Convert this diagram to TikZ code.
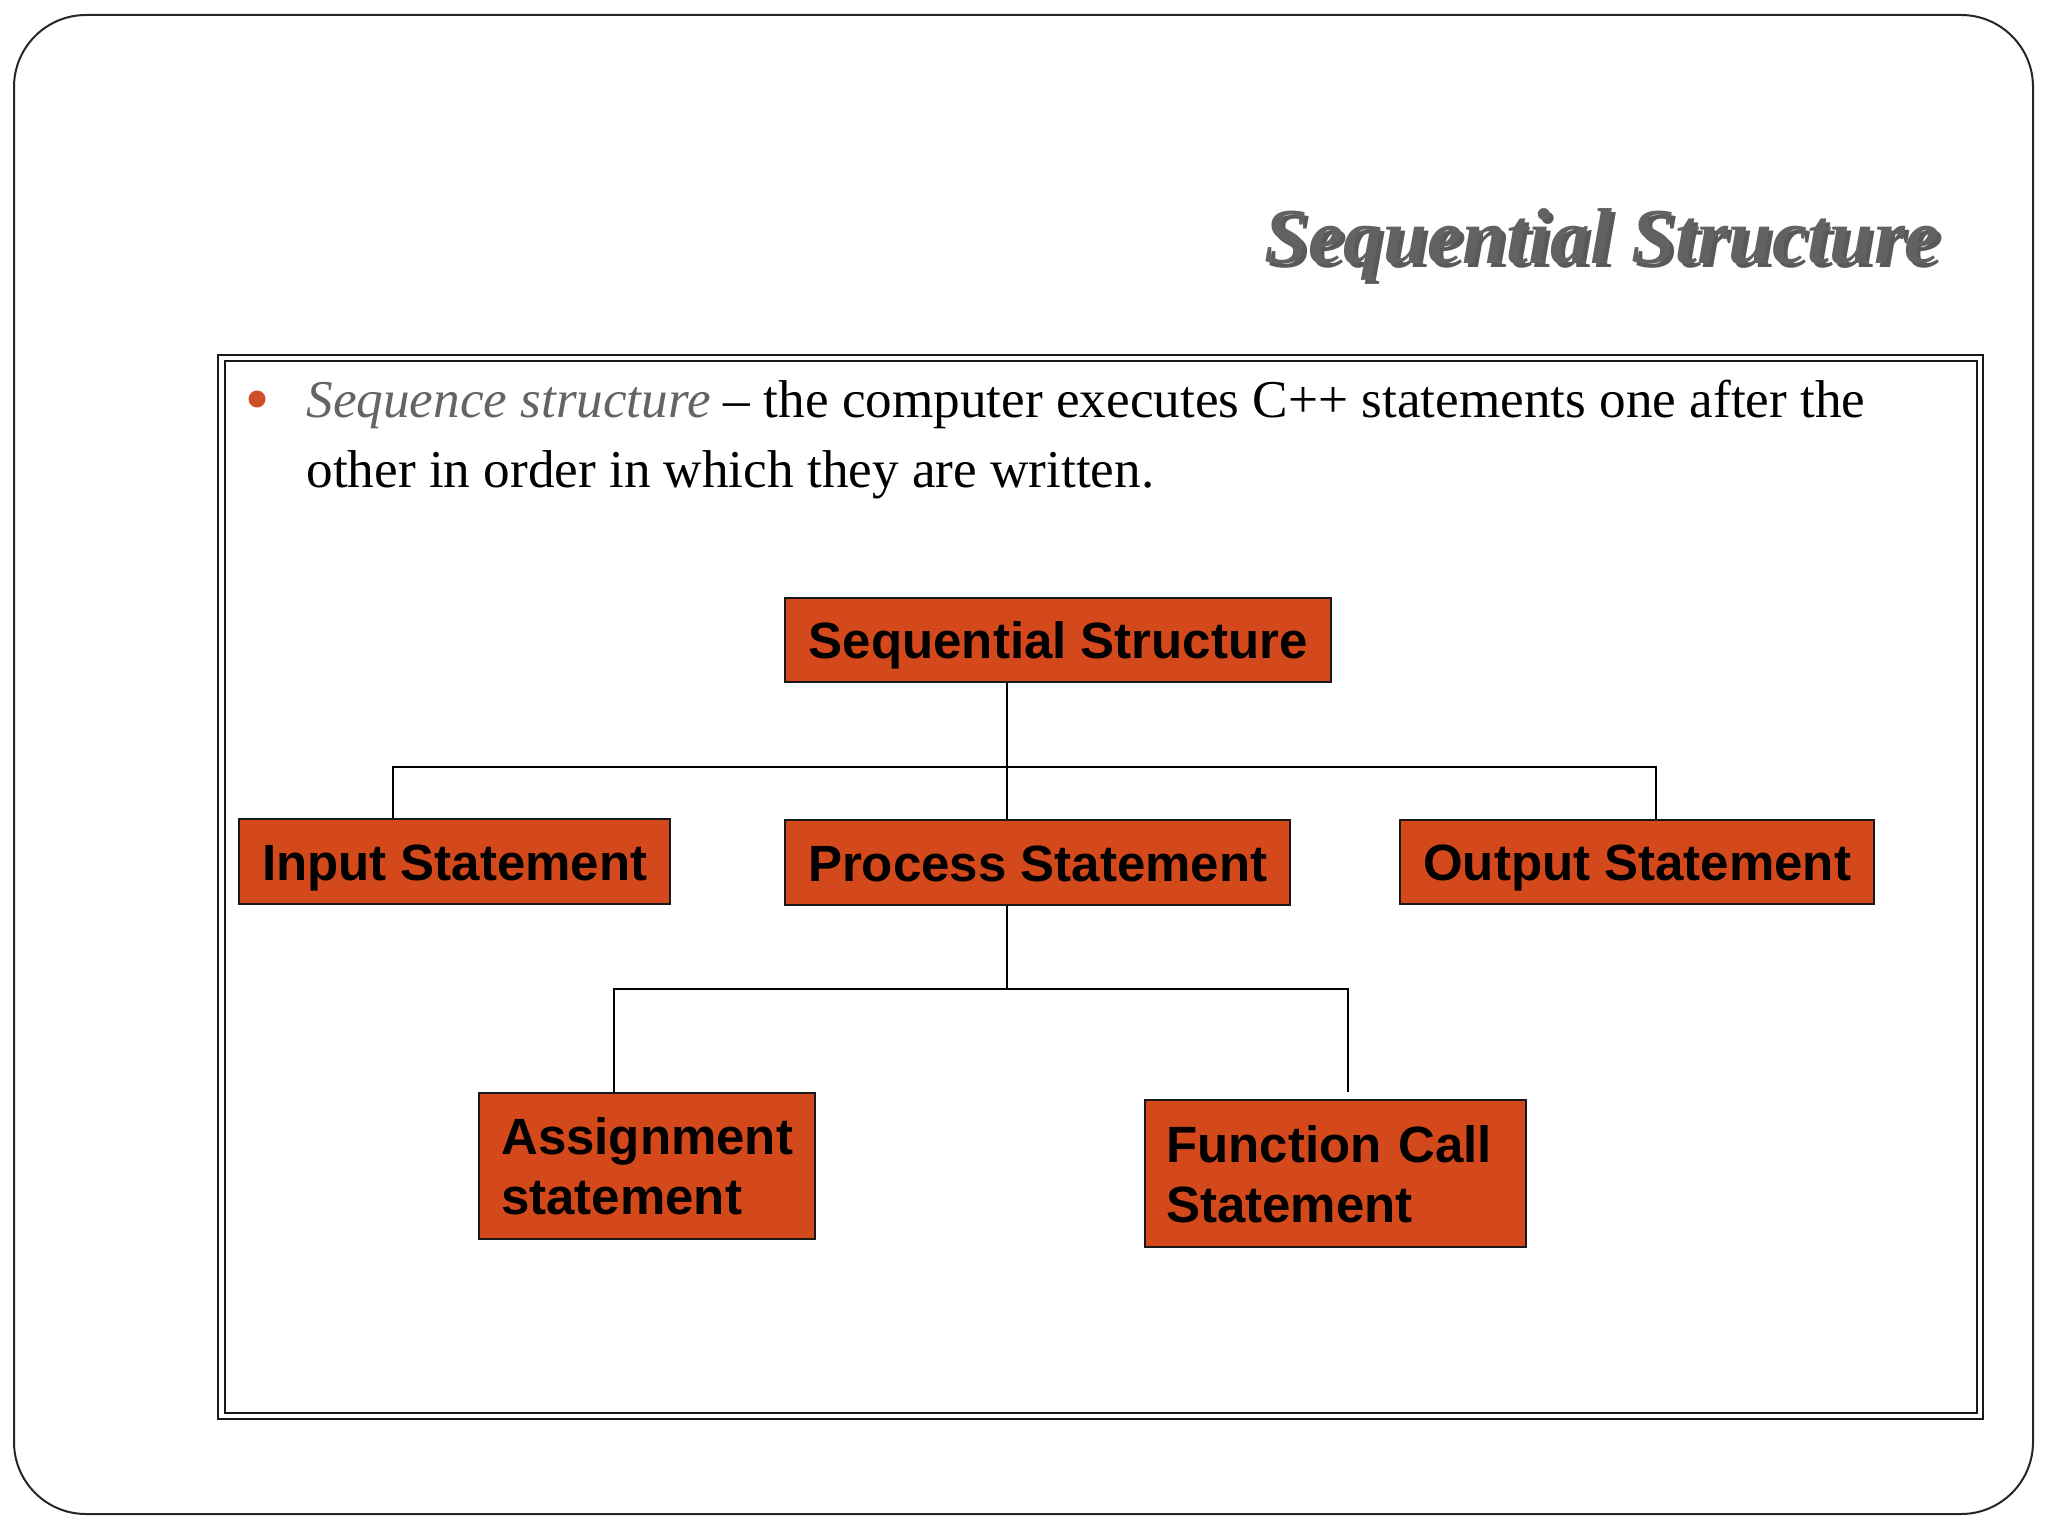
\documentclass[tikz,border=0pt]{standalone}
\usepackage{fontspec}
\setmainfont{Liberation Serif}
\newfontfamily\boxfont{Liberation Sans}
\definecolor{boxred}{RGB}{211,73,28}
\definecolor{bulletc}{RGB}{208,78,38}
\definecolor{titlegray}{RGB}{98,98,98}
\definecolor{italgray}{RGB}{100,100,100}
\hyphenpenalty=10000
\exhyphenpenalty=10000
\begin{document}
\begin{tikzpicture}[x=0.5pt,y=-0.5pt,
  box/.style={draw=black!90, line width=1.2pt, fill=boxred, inner xsep=11pt, inner ysep=0pt,
    anchor=north west, align=left, text=black,
    font=\boxfont\bfseries\fontsize{25.5}{30}\selectfont,
    text height=18.3pt, text depth=0pt},
  twoline/.style={text depth=30pt},
  conn/.style={draw=black, line width=1pt},
  titlefont/.style={font=\fontsize{39.6}{42}\selectfont\bfseries\itshape, inner sep=0pt, anchor=base west},
  bodyfont/.style={font=\fontsize{26.6}{35}\selectfont, inner sep=0pt, anchor=base west, text=black}]
\useasboundingbox (0,0) rectangle (2048,1536);
\fill[white] (0,0) rectangle (2048,1536);
% slide frame
\draw[line width=1pt, black!85, rounded corners=36pt] (14,15) rectangle (2033,1514);
% title with shadow
\node[titlefont, text=black!65] (titleshadow) at (1268,267) {Sequential Structure};
\node[titlefont, text=titlegray] (title) at (1264,263) {Sequential Structure};
% content frame (double)
\draw[line width=0.8pt, black!90] (218,355) rectangle (1983,1419);
\draw[line width=1.3pt, black!90] (225,361) rectangle (1977,1413);
% bullet text
\fill[bulletc] (257,399) circle (8.5);
\node[bodyfont] (line1) at (306,417) {{\color{italgray}\itshape Sequence structure} – the computer executes C++ statements one after the};
\node[bodyfont] (line2) at (306,487) {other in order in which they are written.};
% boxes
\node[box, minimum width=273pt, minimum height=42pt] (ss) at (784,597) {Sequential Structure};
\node[box, minimum width=215.5pt, minimum height=42.5pt] (in) at (238,818) {Input Statement};
\node[box, minimum width=252.5pt, minimum height=42.5pt] (pr) at (784,819) {Process Statement};
\node[box, minimum width=237pt, minimum height=42pt] (out) at (1399,819) {Output Statement};
\node[box, twoline, minimum width=168pt, minimum height=73pt, text width=146pt] (as) at (478,1092) {Assignment\\statement};
\node[box, twoline, minimum width=190.5pt, minimum height=73.5pt, text width=169.5pt, inner xsep=10.5pt] (fc) at (1144,1099) {Function Call\\Statement};
% connectors
\coordinate (j1) at (1007,767);
\coordinate (bl) at (393,767);
\coordinate (br) at (1656,767);
\draw[conn] (ss.south -| j1) -- (j1);
\draw[conn] (in.north -| bl) -- (bl) -- (br) -- (out.north -| br);
\draw[conn] (j1) -- (pr.north -| j1);
\coordinate (j2) at (1007,989);
\coordinate (cl) at (614,989);
\coordinate (cr) at (1348,989);
\coordinate (fcend) at (1348,1092);
\draw[conn] (pr.south -| j2) -- (j2);
\draw[conn] (as.north -| cl) -- (cl) -- (cr) -- (fcend);
\end{tikzpicture}
\end{document}
